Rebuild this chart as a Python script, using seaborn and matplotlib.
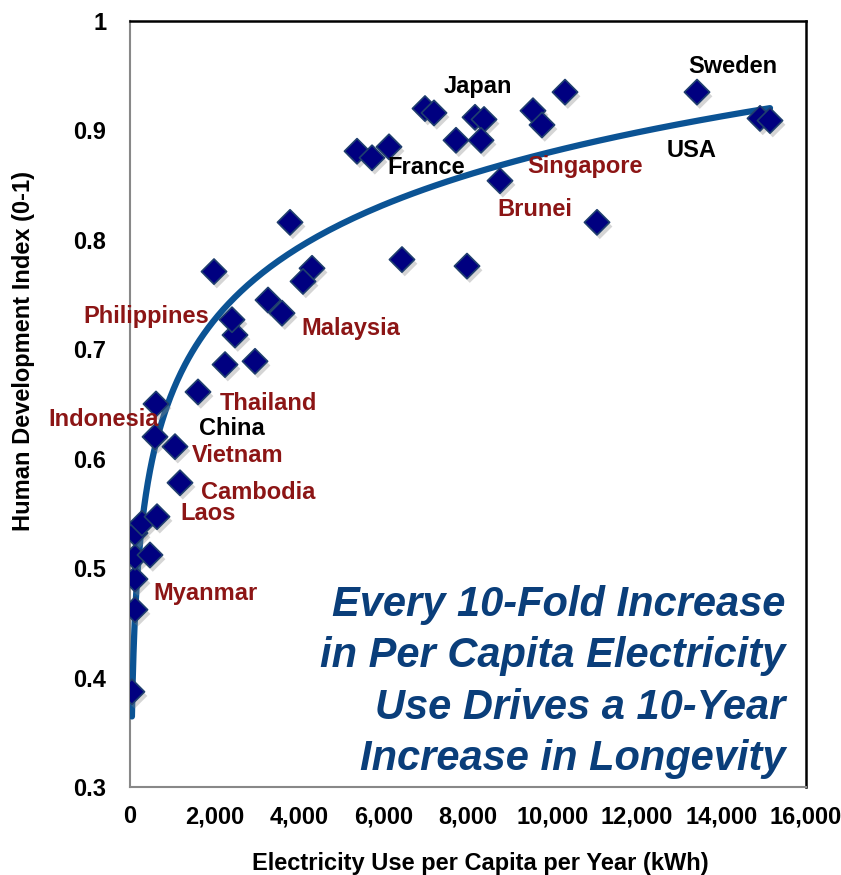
import numpy as np
import pandas as pd
import matplotlib
matplotlib.use("Agg")
import matplotlib.pyplot as plt
import matplotlib.patheffects as pe
from matplotlib.ticker import FuncFormatter
import seaborn as sns

# electricity use per capita (kWh / year) and HDI
kwh = [45, 118, 118, 118, 473, 118, 284, 639, 1183, 592, 1065, 615, 1609,
       2249, 2959, 2485, 2414, 3266, 3598, 1988, 4308, 4095, 3787, 6437,
       7976, 5373, 5728, 6130, 6982, 7195, 8166, 8379, 7716, 8308, 9538,
       9751, 10296, 8757, 11053, 13420, 14911, 15148]
hdi = [0.387, 0.462, 0.490, 0.510, 0.512, 0.532, 0.541, 0.547, 0.578, 0.620,
       0.611, 0.650, 0.661, 0.686, 0.689, 0.713, 0.727, 0.745, 0.733, 0.771,
       0.774, 0.762, 0.816, 0.782, 0.776, 0.881, 0.875, 0.885, 0.920, 0.916,
       0.912, 0.910, 0.891, 0.891, 0.918, 0.905, 0.935, 0.854, 0.816, 0.935,
       0.911, 0.909]

# country labels
names = ["Japan", "Sweden", "France", "USA", "Singapore", "Brunei", "Malaysia",
         "Philippines", "Thailand", "Indonesia", "China", "Vietnam",
         "Cambodia", "Laos", "Myanmar"]
name_x = [8237, 14272, 7006, 13302, 10769, 9586, 5231, 379, 3266, -615, 2414,
          2556, 3030, 1846, 1775]
name_y = [0.940, 0.958, 0.866, 0.882, 0.867, 0.828, 0.719, 0.730, 0.650,
          0.636, 0.628, 0.603, 0.569, 0.550, 0.477]
asean = [False, False, False, False, True, True, True, True, True, True,
         False, True, True, True, True]

df = pd.DataFrame({"kwh": kwh, "hdi": hdi})

sns.set_style("white")
plt.rcParams["font.family"] = ["Liberation Sans", "DejaVu Sans"]
plt.rcParams["font.weight"] = "bold"
plt.rcParams["text.color"] = "black"
plt.rcParams["axes.labelcolor"] = "black"
plt.rcParams["xtick.color"] = "black"
plt.rcParams["ytick.color"] = "black"

fig = plt.figure(figsize=(8.41, 8.75), dpi=100)
ax = fig.add_axes([0.1546, 0.1006, 0.8038, 0.8754])

# logarithmic trend line
coef = np.polyfit(np.log(df["kwh"]), df["hdi"], 1)
grid = np.geomspace(df["kwh"].min(), df["kwh"].max(), 300)
sns.lineplot(x=grid, y=coef[0] * np.log(grid) + coef[1], ax=ax,
             color="#0B5394", lw=4.5, solid_capstyle="round", zorder=3)

sns.scatterplot(data=df, x="kwh", y="hdi", ax=ax, marker="D", s=165,
                color="#000080", edgecolor="#1F3F6E", linewidth=1.2, zorder=4)
ax.collections[-1].set_path_effects(
    [pe.SimplePatchShadow(offset=(2, -3), shadow_rgbFace="#888888", alpha=0.35),
     pe.Normal()])

for n, x, y, a in zip(names, name_x, name_y, asean):
    ax.text(x, y, n, ha="center", va="center", fontsize=17, fontweight="bold",
            color="#8C1515" if a else "black", zorder=5)

ax.text(0.970, 0.137,
        "Every 10-Fold Increase\nin Per Capita Electricity\nUse Drives a 10-Year\nIncrease in Longevity",
        transform=ax.transAxes, ha="right", va="center", multialignment="right",
        fontsize=30, fontweight="bold", fontstyle="italic", color="#0A3E7A",
        linespacing=1.37, zorder=5)

ax.set_xlim(0, 16000)
ax.set_ylim(0.3, 1.0)
ax.set_xticks(np.arange(0, 16001, 2000))
ax.set_yticks([0.3, 0.4, 0.5, 0.6, 0.7, 0.8, 0.9, 1.0])
ax.xaxis.set_major_formatter(FuncFormatter(lambda v, p: f"{int(v):,}"))
ax.yaxis.set_major_formatter(FuncFormatter(lambda v, p: "1" if v > 0.99 else f"{v:.1f}"))
ax.tick_params(axis="both", length=0, labelsize=17, labelcolor="black")
ax.tick_params(axis="y", pad=17)
ax.tick_params(axis="x", pad=13)
for lab in ax.get_xticklabels() + ax.get_yticklabels():
    lab.set_fontweight("bold")

for side in ["left", "bottom"]:
    ax.spines[side].set_color("#888888")
    ax.spines[side].set_linewidth(1.5)
for side in ["top", "right"]:
    ax.spines[side].set_color("black")
    ax.spines[side].set_linewidth(1.8)
    ax.spines[side].set_visible(True)

ax.set_xlabel("Electricity Use per Capita per Year (kWh)", fontsize=17,
              fontweight="bold", color="black")
ax.set_ylabel("Human Development Index (0-1)", fontsize=17, fontweight="bold",
              color="black")
ax.xaxis.set_label_coords(0.518, -0.085)
ax.yaxis.set_label_coords(-0.1405, 0.569)

fig.savefig("out.png", dpi=100)
